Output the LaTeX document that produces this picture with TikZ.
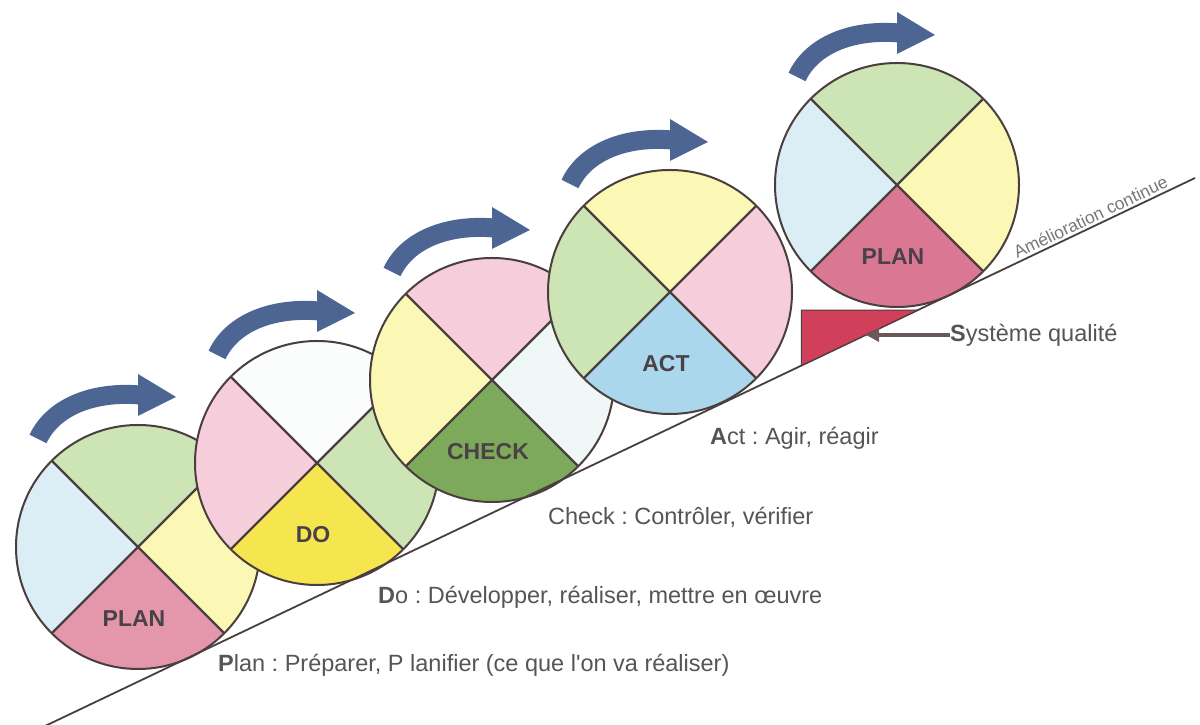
\documentclass[tikz,border=0pt]{standalone}
\usepackage{fontspec}
\setmainfont[Ligatures=TeXOff]{Liberation Sans}
\usetikzlibrary{calc,arrows.meta}
\frenchspacing
\definecolor{cgreen}{HTML}{CDE4B4}
\definecolor{cblue}{HTML}{DCEEF5}
\definecolor{cpink}{HTML}{F6CDDA}
\definecolor{cyellow}{HTML}{FAF8B4}
\definecolor{cwhite}{HTML}{FBFCFC}
\definecolor{cwhiteb}{HTML}{F0F7F7}
\definecolor{plana}{HTML}{E496AA}
\definecolor{planb}{HTML}{DA7894}
\definecolor{doy}{HTML}{F5E650}
\definecolor{checkg}{HTML}{7DAA5A}
\definecolor{actb}{HTML}{AAD7EB}
\definecolor{rimc}{HTML}{4A3E3E}
\definecolor{arrowc}{HTML}{4D6592}
\definecolor{textc}{HTML}{555555}
\definecolor{labc}{HTML}{4A4048}
\definecolor{redq}{HTML}{D0405A}
\definecolor{qarrow}{HTML}{6B5858}
\tikzset{
  divider/.style={draw=rimc, line width=2.4pt},
  rim/.style={draw=rimc, line width=2pt},
  shaft/.style={draw=arrowc, line width=19pt},
  wheellabel/.style={text=labc, font=\bfseries\fontsize{23}{23}\selectfont, inner sep=0pt},
  textlabel/.style={anchor=west, text=textc, font=\fontsize{23.5}{24}\selectfont, inner sep=0pt},
  incline/.style={draw=rimc, line width=1.8pt},
}
\newcommand\pdcawheel[8]{%
  \coordinate (#1) at (#2,#3);
  \fill[#4] (#1) -- ++(45:122) arc[start angle=45,end angle=135,radius=122] -- cycle;
  \fill[#5] (#1) -- ++(135:122) arc[start angle=135,end angle=225,radius=122] -- cycle;
  \fill[#6] (#1) -- ++(225:122) arc[start angle=225,end angle=315,radius=122] -- cycle;
  \fill[#7] (#1) -- ++(315:122) arc[start angle=315,end angle=405,radius=122] -- cycle;
  \draw[divider] ($(#1)+(45:122)$) -- ($(#1)+(225:122)$);
  \draw[divider] ($(#1)+(135:122)$) -- ($(#1)+(315:122)$);
  \draw[rim] (#1) circle[radius=122];
  \node[wheellabel] (#1-lab) at ($(#1)+(-4,-72)$) {#8};
  \coordinate (#1-tail) at ($(#1)+(-100,108)$);
  \coordinate (#1-base) at ($(#1)+(2,152)$);
  \draw[shaft] (#1-tail) .. controls ($(#1)+(-85,140)$) and ($(#1)+(-45,156)$) .. (#1-base);
  \fill[arrowc] ($(#1)+(0,173)$) -- ($(#1)+(38,150)$) -- ($(#1)+(0,131)$) -- cycle;
}
\begin{document}
\begin{tikzpicture}[x=1pt,y=1pt]
\useasboundingbox (0,0) rectangle (1200,725);
\fill[white] (0,0) rectangle (1200,725);

\pdcawheel{w1}{138}{178}{cgreen}{cblue}{plana}{cyellow}{PLAN}
\pdcawheel{w2}{317}{262}{cwhite}{cpink}{doy}{cgreen}{DO}
\pdcawheel{w3}{492}{345}{cpink}{cyellow}{checkg}{cwhiteb}{CHECK}
\pdcawheel{w4}{670}{433}{cyellow}{cgreen}{actb}{cpink}{ACT}
\pdcawheel{w5}{897}{540}{cgreen}{cblue}{planb}{cyellow}{PLAN}

% incline
\coordinate (L0) at (43,-2);
\coordinate (L1) at (1195,547);
\draw[incline] (L0) -- (L1);
\path (L0) -- (L1) node[pos=0.913, sloped, above=3pt, inner sep=0pt, text=textc!80, font=\fontsize{17.5}{17.5}\selectfont] (amel) {Amélioration continue};

% quality system triangle
\coordinate (t1) at ($(L0)!0.6583!(L1)$);
\coordinate (t3) at ($(L0)!0.7591!(L1)$);
\coordinate (t2) at (t1 |- t3);
\filldraw[fill=redq, draw=rimc, line width=1pt] (t1) -- (t2) -- (t3) -- cycle;

\node[textlabel] (sq) at (950,390) {\textbf{S}ystème qualité};
\coordinate (sqtip) at (866,390);
\draw[qarrow, line width=3.5pt, -{Triangle[length=13pt,width=13pt]}] (sq.west) -- (sqtip);

% legends
\node[textlabel] (lplan) at (218,60) {\textbf{P}lan : Préparer, P lanifier (ce que l'on va réaliser)};
\node[textlabel] (ldo) at (378,128) {\textbf{D}o : Développer, réaliser, mettre en œuvre};
\node[textlabel] (lcheck) at (548,208) {Check : Contrôler, vérifier};
\node[textlabel] (lact) at (710,287) {\textbf{A}ct : Agir, réagir};
\end{tikzpicture}
\end{document}
